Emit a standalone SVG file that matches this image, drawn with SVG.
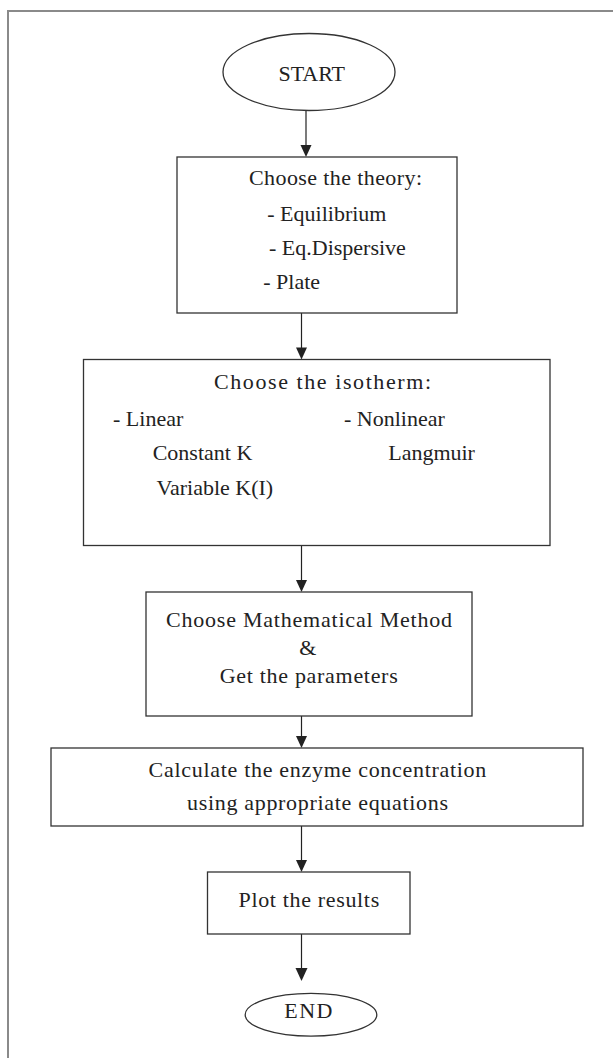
<svg xmlns="http://www.w3.org/2000/svg" width="613" height="1058" viewBox="0 0 613 1058">
<style>
.n{fill:#fff;stroke:#333;stroke-width:1.3}
.t{font-family:"Liberation Serif","Times New Roman",serif;font-size:22px;fill:#222}
.c{stroke:#222;stroke-width:1.2;fill:none}
.h{fill:#222}
</style>
<rect width="613" height="1058" fill="#fff"/>
<path d="M8,1058 V11 H613" fill="none" stroke="#8a8a8a" stroke-width="2"/>
<g id="connectors">
<line class="c" x1="306" y1="110.7" x2="306" y2="148"/>
<polygon class="h" points="306,157 300.5,145 311.5,145"/>
<line class="c" x1="301.5" y1="313" x2="301.5" y2="350"/>
<polygon class="h" points="301.5,359.5 296,347.5 307,347.5"/>
<line class="c" x1="301.5" y1="545.5" x2="301.5" y2="583"/>
<polygon class="h" points="301.5,592 296,580 307,580"/>
<line class="c" x1="301.5" y1="716" x2="301.5" y2="739"/>
<polygon class="h" points="301.5,748 296,736 307,736"/>
<line class="c" x1="301.5" y1="826" x2="301.5" y2="863"/>
<polygon class="h" points="301.5,872 296,860 307,860"/>
<line class="c" x1="301.5" y1="934" x2="301.5" y2="972"/>
<polygon class="h" points="301.5,981 295.5,968 307.5,968"/>
</g>
<g id="start">
<ellipse class="n" cx="309" cy="72" rx="86" ry="38.5"/>
<text class="t" x="311.7" y="81" text-anchor="middle">START</text>
</g>
<g id="theory">
<rect class="n" x="177" y="157" width="280" height="156"/>
<text class="t" x="249" y="185" textLength="173" lengthAdjust="spacing">Choose the theory:</text>
<text class="t" x="267.3" y="221">- Equilibrium</text>
<text class="t" x="269" y="255">- Eq.Dispersive</text>
<text class="t" x="263.3" y="288.5">- Plate</text>
</g>
<g id="isotherm">
<rect class="n" x="83.5" y="359.5" width="466.5" height="186"/>
<text class="t" x="214" y="389" textLength="217" lengthAdjust="spacing">Choose the isotherm:</text>
<text class="t" x="113" y="426">- Linear</text>
<text class="t" x="344" y="426">- Nonlinear</text>
<text class="t" x="152.7" y="460">Constant K</text>
<text class="t" x="388.2" y="460">Langmuir</text>
<text class="t" x="156.5" y="495">Variable K(I)</text>
</g>
<g id="method">
<rect class="n" x="146" y="592" width="326" height="124"/>
<text class="t" x="166" y="627.3" textLength="286" lengthAdjust="spacing">Choose Mathematical Method</text>
<text class="t" x="307.7" y="655" text-anchor="middle">&amp;</text>
<text class="t" x="219.7" y="682.7" textLength="178" lengthAdjust="spacing">Get the parameters</text>
</g>
<g id="calculate">
<rect class="n" x="51" y="748" width="532" height="78"/>
<text class="t" x="148.6" y="776.7" textLength="337.7" lengthAdjust="spacing">Calculate the enzyme concentration</text>
<text class="t" x="187" y="810" textLength="261" lengthAdjust="spacing">using appropriate equations</text>
</g>
<g id="plot">
<rect class="n" x="207.5" y="872" width="202.5" height="62"/>
<text class="t" x="238.5" y="906.7" textLength="140.7" lengthAdjust="spacing">Plot the results</text>
</g>
<g id="end">
<ellipse class="n" cx="311" cy="1014.7" rx="65.8" ry="21.4"/>
<text class="t" x="284.3" y="1017.7" textLength="48" lengthAdjust="spacing">END</text>
</g>
</svg>
